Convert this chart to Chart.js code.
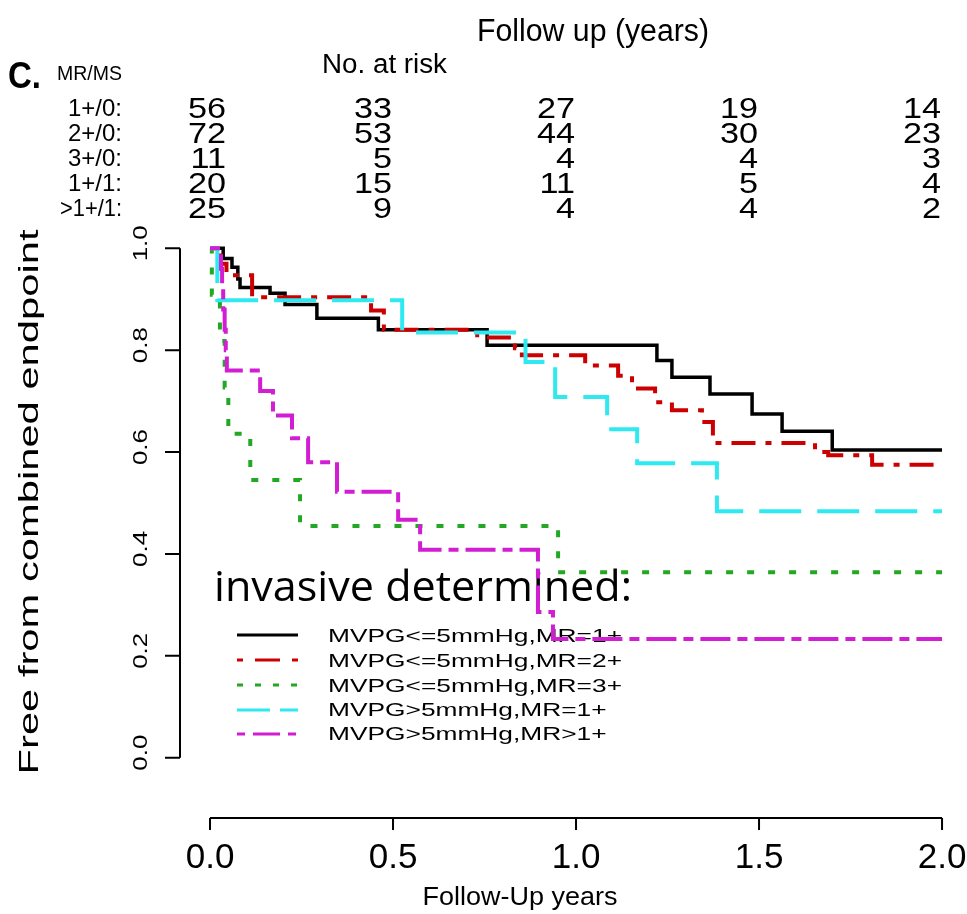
<!DOCTYPE html>
<html><head><meta charset="utf-8">
<script src="https://cdn.jsdelivr.net/npm/chart.js@4.4.0/dist/chart.umd.min.js"></script>
<style>html,body{margin:0;padding:0;background:#fff;}canvas{display:block;}</style>
</head><body>
<canvas id="c" width="967" height="914"></canvas>
<script>
// ---------- data ----------
const seriesNames = ["MVPG<=5mmHg,MR=1+", "MVPG<=5mmHg,MR=2+", "MVPG<=5mmHg,MR=3+", "MVPG>5mmHg,MR=1+", "MVPG>5mmHg,MR>1+"];

const blackTimes = [0, 0.036, 0.06, 0.076, 0.082, 0.164, 0.205, 0.292, 0.46, 0.757, 1.221, 1.262, 1.366, 1.481, 1.563, 1.70, 2.0];
const blackSurv  = [1, 0.98, 0.963, 0.94, 0.923, 0.912, 0.89, 0.863, 0.84, 0.81, 0.78, 0.747, 0.714, 0.675, 0.641, 0.604, 0.604];

const redTimes = [0, 0.03, 0.045, 0.115, 0.44, 0.475, 0.73, 0.833, 0.852, 1.025, 1.115, 1.153, 1.216, 1.262, 1.344, 1.374, 1.653, 1.689, 1.809, 2.0];
const redSurv  = [1, 0.97, 0.947, 0.904, 0.878, 0.84, 0.825, 0.804, 0.79, 0.77, 0.75, 0.725, 0.698, 0.682, 0.659, 0.618, 0.60, 0.594, 0.575, 0.575];

const greenTimes = [0, 0.005, 0.027, 0.04, 0.05, 0.11, 0.246, 0.951, 2.0];
const greenSurv  = [1, 0.909, 0.818, 0.727, 0.636, 0.545, 0.455, 0.364, 0.364];

const cyanTimes = [0, 0.02, 0.525, 0.862, 0.943, 1.085, 1.167, 1.385, 2.0];
const cyanSurv  = [1, 0.898, 0.835, 0.777, 0.708, 0.645, 0.578, 0.484, 0.484];

const magentaTimes = [0, 0.03, 0.033, 0.036, 0.04, 0.043, 0.046, 0.137, 0.172, 0.224, 0.268, 0.347, 0.514, 0.574, 0.896, 0.937, 2.0];
const magentaSurv  = [1, 0.96, 0.92, 0.88, 0.84, 0.80, 0.76, 0.72, 0.672, 0.627, 0.58, 0.522, 0.467, 0.408, 0.286, 0.233, 0.233];

const xTicks = [0, 0.5, 1.0, 1.5, 2.0];
const xTickLabels = ["0.0", "0.5", "1.0", "1.5", "2.0"];
const yTicks = [0, 0.2, 0.4, 0.6, 0.8, 1.0];
const yTickLabels = ["0.0", "0.2", "0.4", "0.6", "0.8", "1.0"];

const riskGroups = ["1+/0:", "2+/0:", "3+/0:", "1+/1:", ">1+/1:"];
const riskTimes = [0, 0.5, 1.0, 1.5, 2.0];
const risk_1_0  = [56, 33, 27, 19, 14];
const risk_2_0  = [72, 53, 44, 30, 23];
const risk_3_0  = [11, 5, 4, 4, 3];
const risk_1_1  = [20, 15, 11, 5, 4];
const risk_gt1_1 = [25, 9, 4, 4, 2];

// ---------- styles ----------
const styles = [
  {color: "#000000", width: 3.5, dash: [], legDash: []},
  {color: "#cc0000", width: 4, dash: [6, 10, 24, 10], legDash: [6, 12, 25, 12]},
  {color: "#22a822", width: 4, dash: [7, 14], legDash: [6, 12]},
  {color: "#2eeaf0", width: 4, dash: [42, 16], legDash: [33, 10]},
  {color: "#d21ed2", width: 4, dash: [10, 7, 30, 7], legDash: [8, 8, 27, 8]}
];
const seriesTimes = [blackTimes, redTimes, greenTimes, cyanTimes, magentaTimes];
const seriesSurv = [blackSurv, redSurv, greenSurv, cyanSurv, magentaSurv];
const riskRows = [risk_1_0, risk_2_0, risk_3_0, risk_1_1, risk_gt1_1];

const SANS = '"Liberation Sans", Arial, sans-serif';
const NARROW = '"Liberation Sans Narrow", "Liberation Sans", Arial, sans-serif';

function measure(ctx, s, font) { ctx.save(); ctx.font = font; const w = ctx.measureText(s).width; ctx.restore(); return w; }
function txt(ctx, s, x, y, font, align, sx, rot, baseline) {
  ctx.save();
  ctx.translate(x, y);
  if (rot) ctx.rotate(rot);
  ctx.scale(sx || 1, 1);
  ctx.font = font;
  ctx.textAlign = align || 'left';
  ctx.textBaseline = baseline || 'alphabetic';
  ctx.fillStyle = '#000';
  ctx.fillText(s, 0, 0);
  ctx.restore();
}
function fitTxt(ctx, s, x, y, font, width, align, rot, baseline) {
  const sx = width / measure(ctx, s, font);
  txt(ctx, s, x, y, font, align, sx, rot, baseline);
}

const datasets = seriesNames.map((name, i) => ({
  label: name,
  data: seriesTimes[i].map((t, k) => ({x: t, y: seriesSurv[i][k]})),
  borderColor: styles[i].color,
  borderWidth: styles[i].width,
  borderDash: styles[i].dash,
  borderCapStyle: 'butt',
  borderJoinStyle: 'miter',
  stepped: true,
  pointRadius: 0,
  fill: false,
  order: 5 - i
}));

const backgroundPlugin = {
  id: 'bg',
  beforeDraw(chart) {
    const ctx = chart.ctx;
    ctx.save(); ctx.fillStyle = '#fff'; ctx.fillRect(0, 0, chart.width, chart.height); ctx.restore();
  },
  beforeDatasetsDraw(chart) {
    const ctx = chart.ctx;
    // legend block
    fitTxt(ctx, "invasive determined:", 214, 601, '42px "Open Sans", sans-serif', 418, 'left');
    const legFont = '19px ' + SANS;
    const sx = 294 / measure(ctx, seriesNames[0], legFont);
    const rowText = [642, 667, 692, 716, 740];
    const rowLine = [635, 660, 685, 710, 734];
    seriesNames.forEach((name, i) => {
      ctx.save();
      ctx.strokeStyle = styles[i].color;
      ctx.lineWidth = 3;
      ctx.setLineDash(styles[i].legDash);
      ctx.beginPath(); ctx.moveTo(237, rowLine[i]); ctx.lineTo(298, rowLine[i]); ctx.stroke();
      ctx.restore();
      txt(ctx, name, 328, rowText[i], legFont, 'left', sx);
    });
  },
  afterDraw(chart) {
    const ctx = chart.ctx;
    const xs = chart.scales.x, ys = chart.scales.y;
    const ca = chart.chartArea;
    ctx.save();
    ctx.strokeStyle = '#000';
    ctx.lineWidth = 2;
    ctx.setLineDash([]);
    // y axis
    const yTop = ys.getPixelForValue(yTicks[yTicks.length - 1]);
    const yBot = ys.getPixelForValue(yTicks[0]);
    ctx.beginPath();
    ctx.moveTo(ca.left, yTop); ctx.lineTo(ca.left, yBot);
    yTicks.forEach(v => { const p = ys.getPixelForValue(v); ctx.moveTo(ca.left, p); ctx.lineTo(ca.left - 15, p); });
    ctx.stroke();
    // x axis
    const axY = 818;
    const xL = xs.getPixelForValue(xTicks[0]), xR = xs.getPixelForValue(xTicks[xTicks.length - 1]);
    ctx.beginPath();
    ctx.moveTo(xL, axY); ctx.lineTo(xR, axY);
    xTicks.forEach(v => { const p = xs.getPixelForValue(v); ctx.moveTo(p, axY); ctx.lineTo(p, axY + 12); });
    ctx.stroke();
    ctx.restore();

    // x tick labels
    xTicks.forEach((v, i) => txt(ctx, xTickLabels[i], xs.getPixelForValue(v), 868, '35px ' + SANS, 'center'));
    // y tick labels (rotated)
    yTicks.forEach((v, i) => {
      const p = ys.getPixelForValue(v) - 5;
      fitTxt(ctx, yTickLabels[i], 141, p, '21px ' + SANS, 36, 'center', -Math.PI / 2, 'middle');
    });
    // axis titles
    fitTxt(ctx, "Free from combined endpoint", 31, 502, '27px ' + SANS, 545, 'center', -Math.PI / 2, 'middle');
    fitTxt(ctx, "Follow-Up years", 520, 905, '26px ' + SANS, 195, 'center');

    // header
    fitTxt(ctx, "Follow up (years)", 477, 41, '31px ' + NARROW, 232, 'left');
    fitTxt(ctx, "No. at risk", 322, 73, '27px ' + NARROW, 125, 'left');
    fitTxt(ctx, "C.", 8, 88, 'bold 36px ' + NARROW, 33, 'left');
    fitTxt(ctx, "MR/MS", 57, 80, '20px ' + NARROW, 65, 'left');

    // risk table
    const rowBase = [118, 143, 168, 193, 218];
    riskGroups.forEach((g, r) => {
      const lf = '24px ' + NARROW;
      const w = measure(ctx, g, lf);
      txt(ctx, g, 122, rowBase[r] - 2, lf, 'right', g.length > 5 ? 62 / w : 54 / w);
      riskRows[r].forEach((n, c) => {
        const px = xs.getPixelForValue(riskTimes[c]);
        const rx = c === 0 ? px + 16 : px - 1;
        txt(ctx, String(n), rx, rowBase[r], '29px ' + SANS, 'right', 1.18);
      });
    });
  }
};

new Chart(document.getElementById('c'), {
  type: 'line',
  data: {datasets},
  options: {
    responsive: false,
    animation: false,
    events: [],
    layout: {padding: {left: 180, right: 3, top: 228, bottom: 136}},
    plugins: {legend: {display: false}, tooltip: {enabled: false}, title: {display: false}},
    scales: {
      x: {type: 'linear', min: -0.082, max: 2.06, display: false},
      y: {type: 'linear', min: -0.04, max: 1.04, display: false}
    }
  },
  plugins: [backgroundPlugin]
});
</script>
</body></html>
